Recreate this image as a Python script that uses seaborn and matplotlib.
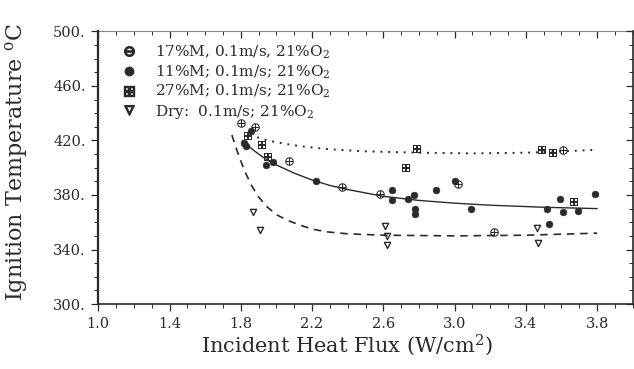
import numpy as np
import pandas as pd
import matplotlib
matplotlib.use("Agg")
import matplotlib.pyplot as plt
import seaborn as sns
from matplotlib.ticker import MultipleLocator, FuncFormatter, NullFormatter
from matplotlib.lines import Line2D

# data
m17_x = [1.80, 1.88, 2.07, 2.37, 2.58, 3.02, 3.22, 3.61]
m17_y = [433, 430, 405, 386, 381, 388, 352.5, 413]

m11_x = [1.82, 1.83, 1.86, 1.94, 1.98, 2.22, 2.65, 2.65, 2.74, 2.77, 2.78, 2.78,
         2.895, 3.00, 3.09, 3.52, 3.53, 3.59, 3.61, 3.69, 3.79]
m11_y = [418, 416, 427, 402, 404, 390, 383.5, 376, 377, 380, 370, 366,
         383.5, 390, 370, 369.5, 358.5, 377, 367.5, 368, 380.5]

m27_x = [1.84, 1.92, 1.95, 2.73, 2.79, 3.49, 3.55, 3.67]
m27_y = [423, 416.5, 408, 400, 414, 413, 411, 374.5]

dry_x = [1.87, 1.91, 2.61, 2.62, 2.62, 3.46, 3.47]
dry_y = [367.5, 354, 357.5, 350, 343, 355.5, 344.5]

# fitted curves
fit11_x = [1.81, 1.86, 1.90, 1.95, 2.00, 2.10, 2.20, 2.30, 2.40, 2.60, 2.80, 3.00, 3.20, 3.50, 3.80]
fit11_y = [420, 414, 410, 405.5, 402, 396, 391, 387, 384, 379, 376, 374, 372.5, 371, 370]

fit27_x = [1.85, 1.90, 1.95, 2.05, 2.15, 2.30, 2.50, 2.80, 3.10, 3.40, 3.60, 3.78]
fit27_y = [424, 422, 420, 417.5, 415.5, 413.5, 412, 411, 410.5, 411, 412, 413]

dry_fit_x = [1.75, 1.78, 1.82, 1.86, 1.90, 1.95, 2.00, 2.07, 2.13, 2.20, 2.28, 2.40, 2.60, 3.00, 3.40, 3.80]
dry_fit_y = [424, 412, 398, 387, 378.5, 371, 365.5, 361, 358, 355, 353, 351.5, 350.5, 350, 350.5, 352]

x_ticks = [1.0, 1.4, 1.8, 2.2, 2.6, 3.0, 3.4, 3.8]
y_ticks = [300, 340, 380, 420, 460, 500]

labels = ["17%M, 0.1m/s, 21%O$_2$",
          "11%M; 0.1m/s; 21%O$_2$",
          "27%M; 0.1m/s; 21%O$_2$",
          "Dry:  0.1m/s; 21%O$_2$"]

sns.set_style("ticks")
plt.rcParams["font.family"] = ["DejaVu Serif"]
plt.rcParams["mathtext.fontset"] = "dejavuserif"

ink = "#2a2a2a"
fig = plt.figure(figsize=(6.34, 3.69), dpi=100)
ax = fig.add_axes([0.155, 0.176, 0.843, 0.739])

sns.lineplot(x=fit27_x, y=fit27_y, ax=ax, color=ink, linestyle=(0, (1, 3)), lw=1.4)
sns.lineplot(x=fit11_x, y=fit11_y, ax=ax, color=ink, lw=1.0)
sns.lineplot(x=dry_fit_x, y=dry_fit_y, ax=ax, color=ink, linestyle=(0, (4.5, 3.5)), lw=1.2)

sns.scatterplot(x=m17_x, y=m17_y, ax=ax, marker=r"$\oplus$", s=38, color=ink, linewidth=0)
sns.scatterplot(x=m11_x, y=m11_y, ax=ax, marker="o", s=24, color=ink, edgecolor=ink)
sns.scatterplot(x=m27_x, y=m27_y, ax=ax, marker=r"$\boxplus$", s=34, color=ink, linewidth=0)
sns.scatterplot(x=dry_x, y=dry_y, ax=ax, marker="v", s=20, facecolor="white", edgecolor=ink, linewidth=1.0)

ax.set_xlim(1.0, 4.0)
ax.set_ylim(300, 500)
ax.set_xticks(x_ticks)
ax.set_yticks(y_ticks)
ax.xaxis.set_minor_locator(MultipleLocator(0.1))
ax.yaxis.set_minor_locator(MultipleLocator(10))
ax.xaxis.set_major_formatter(FuncFormatter(lambda v, p: f"{v:.1f}"))
ax.yaxis.set_major_formatter(FuncFormatter(lambda v, p: f"{v:.0f}."))

ax.tick_params(axis="both", which="major", direction="out", length=5, width=0.9,
               labelsize=10.5, colors=ink, pad=4)
ax.tick_params(axis="both", which="minor", direction="out", length=3, width=0.7, colors=ink)

# inward ticks on top and right, like the original plotter frame
top = ax.secondary_xaxis("top")
top.set_xticks(x_ticks)
top.xaxis.set_minor_locator(MultipleLocator(0.1))
top.xaxis.set_major_formatter(NullFormatter())
top.tick_params(which="major", direction="in", length=5, width=0.9, colors=ink)
top.tick_params(which="minor", direction="in", length=3, width=0.7, colors=ink)
top.spines["top"].set_linewidth(0.8)
top.spines["top"].set_color("#888888")

right = ax.secondary_yaxis("right")
right.set_yticks(y_ticks)
right.yaxis.set_minor_locator(MultipleLocator(10))
right.yaxis.set_major_formatter(NullFormatter())
right.tick_params(which="major", direction="in", length=5, width=0.9, colors=ink)
right.tick_params(which="minor", direction="in", length=3, width=0.7, colors=ink)
right.spines["right"].set_linewidth(1.2)
right.spines["right"].set_color(ink)

ax.spines["left"].set_linewidth(1.6)
ax.spines["bottom"].set_linewidth(1.2)
ax.spines["top"].set_visible(False)
ax.spines["right"].set_visible(False)
ax.spines["left"].set_color(ink)
ax.spines["bottom"].set_color(ink)

ax.set_xlabel("Incident Heat Flux (W/cm$^2$)", fontsize=15, color=ink)
ax.xaxis.set_label_coords(0.465, -0.105)
ax.set_ylabel("Ignition Temperature $^{\\mathrm{o}}$C", fontsize=16, color=ink)
ax.yaxis.set_label_coords(-0.128, 0.52)

handles = [
    Line2D([], [], marker=r"$\ominus$", ls="", color=ink, markersize=7),
    Line2D([], [], marker="o", ls="", color=ink, markersize=6),
    Line2D([], [], marker=r"$\boxplus$", ls="", color=ink, markersize=7),
    Line2D([], [], marker=r"$\triangledown$", ls="", color=ink, markersize=7),
]
leg = ax.legend(handles, labels, loc="upper left", bbox_to_anchor=(0.012, 0.99),
                frameon=False, fontsize=11, handletextpad=0.7, labelspacing=0.16,
                borderaxespad=0.2)
for t in leg.get_texts():
    t.set_color(ink)

fig.savefig("out.png", dpi=100)
